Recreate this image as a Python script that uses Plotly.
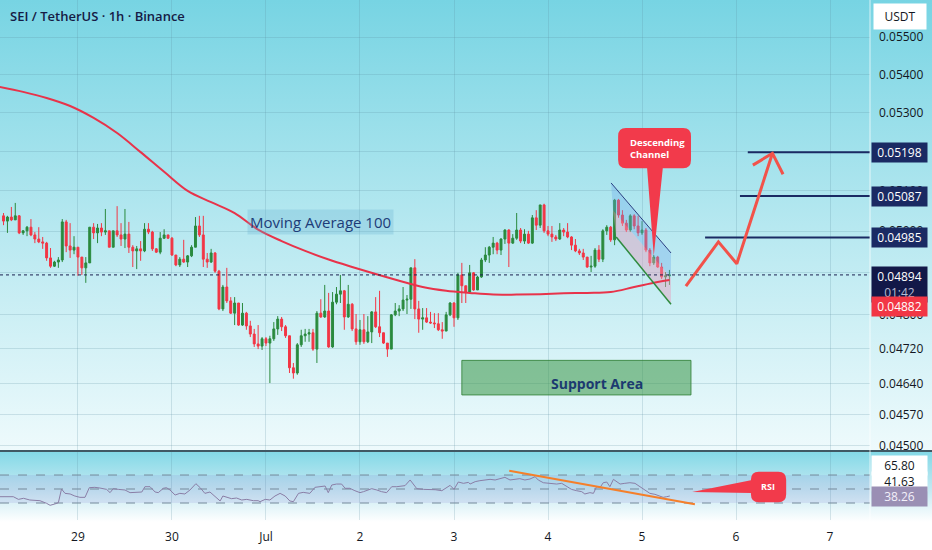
import math
import plotly.graph_objects as go

TITLE = "SEI / TetherUS · 1h · Binance"

# hourly candles, hour 0 = 29 Jun 00:00, prices in units of 0.00001 USDT
candle_start_hour = -19
first_open = 5038
closes = [
    5025, 5035, 5028, 5038, 4996, 5001, 5010, 4991, 4981, 4974,
    4971, 4935, 4915, 4925, 4930, 5023, 4964, 4954, 4961, 4937,
    4911, 4923, 5010, 4996, 5008, 4998, 5001, 4961, 5001, 4991,
    4981, 4993, 4961, 4952, 4957, 4952, 5005, 4998, 4957, 4949,
    4983, 4991, 4983, 4942, 4918, 4932, 4925, 4940, 4961, 5013,
    4991, 4932, 4925, 4947, 4903, 4813, 4865, 4832, 4803, 4827,
    4775, 4803, 4773, 4754, 4731, 4726, 4743, 4733, 4743, 4766,
    4789, 4771, 4750, 4676, 4664, 4729, 4750, 4754, 4757, 4719,
    4803, 4794, 4808, 4724, 4829, 4848, 4856, 4794, 4824, 4766,
    4736, 4764, 4736, 4759, 4806, 4771, 4757, 4733, 4719, 4799,
    4808, 4813, 4834, 4836, 4911, 4813, 4789, 4792, 4782, 4780,
    4778, 4764, 4761, 4799, 4827, 4792, 4894, 4868, 4853, 4899,
    4858, 4889, 4930, 4942, 4961, 4971, 4954, 4981, 5003, 4971,
    4983, 5003, 4976, 4993, 4971, 5033, 5015, 5065, 5001, 4993,
    4986, 4981, 5003, 4998, 4986, 4966, 4952, 4947, 4937, 4913,
    4915, 4954, 4932, 5001, 5010, 4979, 5077, 5040, 5020, 5003,
    5038, 5013, 4996, 5003, 4954, 4923, 4937, 4913, 4889, 4892, 4894,
]
highs = [
    5045, 5038, 5060, 5070, 5040, 5003, 5013, 5030, 4998, 5010,
    4986, 4974, 4959, 4928, 4937, 5030, 5028, 5020, 4988, 4961,
    4937, 4937, 5010, 5020, 5018, 5020, 5055, 5001, 5001, 5062,
    5020, 5055, 5023, 4966, 4964, 4976, 5020, 5020, 5001, 4959,
    4998, 5005, 4991, 4986, 4942, 4937, 4979, 4942, 4966, 5035,
    5038, 5038, 4947, 4957, 4949, 4906, 4870, 4911, 4841, 4841,
    4827, 4827, 4806, 4785, 4766, 4775, 4747, 4747, 4750, 4782,
    4796, 4794, 4775, 4750, 4687, 4733, 4764, 4766, 4766, 4766,
    4808, 4836, 4870, 4851, 4853, 4865, 4894, 4858, 4870, 4827,
    4801, 4787, 4801, 4796, 4808, 4841, 4856, 4757, 4733, 4801,
    4827, 4822, 4865, 4846, 4911, 4932, 4832, 4815, 4815, 4806,
    4803, 4803, 4782, 4806, 4829, 4829, 4899, 4923, 4868, 4918,
    4901, 4892, 4935, 4961, 4964, 4986, 4974, 4983, 5005, 5005,
    4993, 5045, 5008, 5005, 5001, 5040, 5052, 5065, 5068, 5013,
    5013, 4991, 5020, 5008, 5020, 4988, 4981, 4957, 4957, 4937,
    4940, 4959, 4966, 5005, 5015, 5013, 5080, 5080, 5052, 5028,
    5042, 5042, 5038, 5025, 5008, 4959, 4942, 4940, 4923, 4901, 4906,
]
lows = [
    5015, 4996, 5025, 5028, 4993, 4991, 4988, 4988, 4971, 4971,
    4957, 4928, 4911, 4913, 4911, 4925, 4949, 4935, 4944, 4892,
    4894, 4875, 4923, 4981, 4971, 4988, 4991, 4961, 4961, 4986,
    4964, 4959, 4947, 4913, 4908, 4928, 4949, 4993, 4952, 4947,
    4944, 4981, 4981, 4940, 4915, 4913, 4923, 4913, 4937, 4961,
    4986, 4913, 4911, 4923, 4899, 4810, 4808, 4827, 4801, 4775,
    4773, 4773, 4764, 4747, 4724, 4719, 4717, 4726, 4641, 4738,
    4752, 4761, 4745, 4664, 4651, 4660, 4724, 4736, 4736, 4715,
    4687, 4792, 4792, 4722, 4722, 4824, 4827, 4764, 4792, 4761,
    4729, 4729, 4731, 4733, 4733, 4768, 4747, 4731, 4701, 4719,
    4796, 4796, 4808, 4801, 4813, 4789, 4757, 4764, 4780, 4778,
    4768, 4761, 4743, 4761, 4796, 4771, 4787, 4827, 4827, 4851,
    4856, 4863, 4887, 4925, 4923, 4944, 4944, 4942, 4969, 4913,
    4969, 4979, 4971, 4969, 4969, 4969, 5003, 5008, 4996, 4988,
    4974, 4976, 4979, 4988, 4983, 4954, 4949, 4942, 4930, 4911,
    4901, 4911, 4925, 4925, 4991, 4974, 4966, 5033, 5013, 4998,
    4998, 5005, 4988, 4991, 4949, 4915, 4918, 4911, 4884, 4865, 4870,
]

# moving average 100, read at a few hours
ma_hours = [-20, -14, -8, -2, 4, 10, 16, 22, 28, 34, 40, 46, 52, 58, 64,
            70, 76, 82, 88, 94, 100, 106, 112, 118, 124, 130, 136, 142, 148, 151]
ma_values = [5367, 5354, 5338, 5317, 5286, 5247, 5198, 5148, 5100, 5072, 5045,
             5004, 4976, 4952, 4931, 4913, 4896, 4880, 4865, 4856, 4851, 4847,
             4847, 4848, 4850, 4851, 4853, 4865, 4877, 4882]

# RSI line
rsi_hours = [
    -19.9, -16.5, -15.2, -13.9, -12.3, -9.7, -8.0, -7.1, -5.9, -5.0, -4.2, -3.3,
    -2.0, -0.8, 0.5, 1.8, 2.9, 4.3, 5.6, 7.3, 8.2, 9.0, 10.3, 12.0, 13.3, 15.0,
    16.3, 17.1, 18.4, 19.7, 20.5, 21.8, 22.6, 23.5, 24.8, 26.0, 27.3, 28.6, 30.1,
    31.2, 32.4, 33.7, 35.0, 36.3, 37.0, 38.0, 39.2, 40.5, 41.8, 43.1, 44.8, 46.0,
    46.5, 47.8, 49.0, 50.3, 51.6, 52.9, 54.1, 55.0, 56.3, 57.5, 59.2, 60.5, 61.8,
    63.1, 63.9, 64.8, 66.0, 67.3, 68.2, 69.4, 70.7, 72.0, 72.9, 73.7, 75.0, 76.3,
    77.5, 78.8, 80.1, 81.4, 83.5, 84.8, 85.4, 86.5, 88.2, 89.9, 91.2, 92.9, 94.1,
    95.0, 96.0, 97.1, 98.4, 99.7, 100.1, 101.4, 102.6, 103.9, 105.2, 106.5,
    107.7, 109.0, 110.3, 111.6, 112.8, 114.1, 115.4, 116.7, 117.5, 118.8, 120.5,
    122.2, 123.5, 124.8, 126.0, 127.3, 128.6, 129.4, 130.7, 131.6, 132.4, 133.3,
    134.1, 135.0, 135.8, 136.7, 137.5, 138.4, 139.6, 140.9, 142.2, 143.5, 144.8,
    146.0, 147.3, 148.6, 149.4, 150.3, 151.1,
]
rsi_values = [
    39.0, 39.0, 35.2, 36.7, 34.3, 33.3, 29.5, 26.7, 28.6, 30.5, 50.0, 43.8,
    42.9, 40.0, 38.1, 38.1, 51.9, 52.4, 51.4, 49.5, 44.8, 50.5, 49.5, 48.6, 44.8,
    45.2, 45.7, 53.3, 53.3, 45.7, 44.8, 51.0, 51.9, 48.6, 41.4, 43.8, 42.9, 48.6,
    57.6, 51.9, 43.8, 45.7, 39.0, 32.9, 40.0, 38.1, 36.2, 37.1, 34.3, 35.2, 33.3,
    33.3, 31.9, 35.2, 34.3, 40.0, 43.8, 40.0, 32.9, 31.9, 43.8, 45.2, 43.8, 52.4,
    53.3, 54.3, 44.8, 55.7, 57.1, 57.1, 51.0, 51.0, 47.6, 44.8, 46.2, 47.6, 50.5,
    48.6, 46.2, 44.8, 53.3, 53.3, 54.8, 62.9, 58.1, 50.5, 49.5, 49.5, 49.0, 47.6,
    51.9, 55.2, 49.5, 60.0, 58.1, 59.5, 57.1, 60.5, 61.9, 62.9, 63.8, 62.9, 65.2,
    66.7, 62.9, 63.8, 64.8, 62.9, 64.3, 67.6, 62.9, 59.0, 58.1, 57.1, 58.1, 53.3,
    49.5, 47.6, 46.2, 42.9, 44.8, 43.8, 53.3, 52.4, 59.0, 60.0, 53.3, 63.8, 60.5,
    57.1, 58.1, 59.0, 58.1, 53.3, 47.6, 43.8, 42.4, 40.0, 38.1, 39.0, 40.0,
]
rsi_levels = [70, 50, 30]

day_hours = [0, 24, 48, 72, 96, 120, 144, 168, 192]
day_labels = ["29", "30", "Jul", "2", "3", "4", "5", "6", "7"]
price_ticks = [0.045, 0.0457, 0.0464, 0.0472, 0.048, 0.049, 0.050,
               0.051, 0.052, 0.053, 0.054, 0.055]

targets = [0.05198, 0.05087, 0.04985]
target_from = [171.0, 169.0, 160.1]
last_price = 0.04894
ma_last = "0.04882"
countdown = "01:42"
rsi_labels = ["65.80", "41.63", "38.26"]

# ---- page geometry (pixels of the 932x550 view)
W, H = 932, 550
PANE_R = 870
MAIN_B = 450
RSI_T, RSI_B = 452, 520
X_RANGE = [-19.9, 202.2]
P_TOP, P_BOT = 0.05601, 0.04491

NAVY = "#1a2a63"
RED = "#f23645"
GREEN = "#2a8a3e"
GRID = "rgba(90,140,160,0.22)"
FONT = "Open Sans"

TICK = 1e-5
hours = list(range(candle_start_hour, candle_start_hour + len(closes)))
c = [v * TICK for v in closes]
o = [first_open * TICK] + c[:-1]
hi = [v * TICK for v in highs]
lo = [v * TICK for v in lows]
ma = [v * TICK for v in ma_values]


def lg(p):
    return math.log10(p)


def line_trace(x, y, color, width, ax="2", dash="solid", shape="linear"):
    return go.Scatter(x=x, y=y, mode="lines",
                      line=dict(color=color, width=width, dash=dash, shape=shape),
                      xaxis="x" + ax, yaxis="y" + ax, hoverinfo="skip", showlegend=False)


def fill_trace(x, y, color, ax="2"):
    return go.Scatter(x=x, y=y, fill="toself", fillcolor=color, mode="none",
                      xaxis="x" + ax, yaxis="y" + ax, hoverinfo="skip", showlegend=False)


fig = go.Figure()

# gradient backgrounds drawn in a pixel-space helper subplot
fig.add_trace(go.Scatter(
    x=[0, W, W, 0], y=[0, 0, MAIN_B, MAIN_B], fill="toself", mode="none",
    fillgradient=dict(type="vertical", start=0, stop=MAIN_B,
                      colorscale=[[0, "#77d4e3"], [0.5, "#b6e8f0"], [1, "#eefafc"]]),
    xaxis="x", yaxis="y", hoverinfo="skip", showlegend=False))
fig.add_trace(go.Scatter(
    x=[0, W, W, 0], y=[MAIN_B, MAIN_B, RSI_B + 2, RSI_B + 2], fill="toself", mode="none",
    fillgradient=dict(type="vertical", start=MAIN_B, stop=RSI_B + 2,
                      colorscale=[[0, "#80d8e6"], [0.55, "#c4e9f2"], [1, "#ffffff"]]),
    xaxis="x", yaxis="y", hoverinfo="skip", showlegend=False))

# descending channel (drawing)
ch_top = ([136.1, 151.4], [0.05120, 0.04947])
ch_mid = ([136.6, 151.4], [0.05052, 0.04887])
ch_bot = ([137.4, 151.4], [0.04986, 0.04824])
fig.add_trace(fill_trace(ch_top[0] + ch_mid[0][::-1], ch_top[1] + ch_mid[1][::-1],
                         "rgba(110,170,235,0.35)"))
fig.add_trace(fill_trace(ch_mid[0] + ch_bot[0][::-1], ch_mid[1] + ch_bot[1][::-1],
                         "rgba(230,160,190,0.45)"))

# support area
fig.add_trace(go.Scatter(
    x=[98.0, 156.5, 156.5, 98.0, 98.0], y=[0.04614, 0.04614, 0.04693, 0.04693, 0.04614],
    fill="toself", fillcolor="rgba(56,150,70,0.55)", mode="lines",
    line=dict(color="rgba(46,125,50,0.8)", width=1),
    xaxis="x2", yaxis="y2", hoverinfo="skip", showlegend=False))

fig.add_trace(go.Candlestick(
    x=hours, open=o, high=hi, low=lo, close=c,
    increasing=dict(line=dict(color=GREEN, width=1), fillcolor=GREEN),
    decreasing=dict(line=dict(color=RED, width=1), fillcolor=RED),
    whiskerwidth=0, xaxis="x2", yaxis="y2", showlegend=False))

fig.add_trace(line_trace(ma_hours, ma, "#e8334a", 2, shape="spline"))
fig.add_trace(line_trace(*ch_top, "#2b3f80", 1))
fig.add_trace(line_trace(*ch_bot, "#2e8b3e", 1.5))

# target levels
for p, h0 in zip(targets, target_from):
    fig.add_trace(line_trace([h0, X_RANGE[1]], [p, p], NAVY, 2))

# projected path with arrow head
fig.add_trace(line_trace([155.2, 163.5, 168.2, 177.3], [0.04867, 0.04974, 0.04921, 0.05195],
                         "#f2524a", 3))
fig.add_trace(line_trace([172.3, 177.3, 180.0], [0.05165, 0.05195, 0.05142], "#f2524a", 3))

# RSI pane: band, levels, line, trend line
fig.add_trace(fill_trace([X_RANGE[0], X_RANGE[1], X_RANGE[1], X_RANGE[0]],
                         [30, 30, 70, 70], "rgba(120,105,200,0.13)", ax="3"))
for lv in rsi_levels:
    fig.add_trace(line_trace(X_RANGE, [lv, lv], "#74899a", 1, ax="3", dash="dash"))
fig.add_trace(line_trace(rsi_hours, rsi_values, "#8a7ea6", 1, ax="3"))
fig.add_trace(line_trace([110.1, 157.5], [76.2, 28.1], "#f57f2a", 2, ax="3"))

shapes = []
# current price dotted line
shapes.append(dict(type="line", xref="x2 domain", yref="y2", x0=0, x1=1,
                   y0=last_price, y1=last_price,
                   line=dict(color="#1b2150", width=1, dash="dot")))
# callout "Descending Channel"
l, r, t, b = 137.9, 156.5, 0.05260, 0.05157
t_in, b_in, rx = 0.05239, 0.05178, 2.0
shapes.append(dict(
    type="path", xref="x2", yref="y2", fillcolor="#f23a4b", line=dict(width=0),
    path=(f"M{l + rx},{t} L{r - rx},{t} Q{r},{t} {r},{t_in} L{r},{b_in} "
          f"Q{r},{b} {r - rx},{b} L149.3,{b} L147.0,0.04940 L145.3,{b} "
          f"L{l + rx},{b} Q{l},{b} {l},{b_in} L{l},{t_in} Q{l},{t} {l + rx},{t} Z")))
# callout "RSI"
l, r, t, b = 171.8, 180.8, 74.7, 31.0
t_in, b_in = 63.3, 42.4
shapes.append(dict(
    type="path", xref="x3", yref="y3", fillcolor="#f23a4b", line=dict(width=0),
    path=(f"M{l + rx},{t} L{r - rx},{t} Q{r},{t} {r},{t_in} L{r},{b_in} "
          f"Q{r},{b} {r - rx},{b} L{l + rx},{b} Q{l},{b} {l},{b_in} "
          f"L{l},44.3 L156.8,45.7 L{l},62.5 L{l},{t_in} Q{l},{t} {l + rx},{t} Z")))
# pane separator and price-scale edge
shapes.append(dict(type="line", xref="paper", yref="paper", x0=0, x1=1,
                   y0=1 - 451 / H, y1=1 - 451 / H, line=dict(color="#2a2e39", width=1.5)))
shapes.append(dict(type="line", xref="paper", yref="paper", x0=PANE_R / W, x1=PANE_R / W,
                   y0=0, y1=1, line=dict(color="rgba(255,255,255,0.7)", width=1)))

ann = []
ann.append(dict(xref="paper", yref="paper", x=8 / W, y=1 - 16 / H, xanchor="left",
                yanchor="middle", showarrow=False, text=TITLE,
                font=dict(size=13, color="#161b45", family=FONT, weight=600)))
ann.append(dict(xref="x2", yref="y2", x=61.8, y=lg(0.05023), showarrow=False,
                text="Moving Average 100", bgcolor="rgba(100,175,210,0.28)", borderpad=2,
                font=dict(size=15, color="#1d3c78", family=FONT)))
ann.append(dict(xref="x2", yref="y2", x=132.5, y=lg(0.04641), showarrow=False,
                text="<b>Support Area</b>", font=dict(size=14, color="#1c3a70", family=FONT)))
ann.append(dict(xref="x2", yref="y2", x=140.4, y=lg(0.05208), xanchor="left", align="left",
                showarrow=False, text="<b>Descending<br>Channel</b>",
                font=dict(size=9.5, color="white", family=FONT)))
ann.append(dict(xref="x3", yref="y3", x=176.2, y=52.9, showarrow=False, text="<b>RSI</b>",
                font=dict(size=9, color="white", family=FONT)))
ann.append(dict(xref="paper", yref="paper", x=900 / W, y=1 - 17 / H, xanchor="center",
                yanchor="middle", showarrow=False, text="USDT", bgcolor="white",
                borderpad=4, width=44, font=dict(size=12, color="#131722", family=FONT)))

label_x = 871 / W
for p in targets:
    ann.append(dict(xref="paper", yref="y2", x=label_x, y=lg(p), xanchor="left",
                    yanchor="middle", showarrow=False, text=f"{p:.5f}", bgcolor=NAVY,
                    borderpad=1, width=53, font=dict(size=12, color="white", family=FONT)))
ann.append(dict(xref="paper", yref="y2", x=label_x, y=lg(last_price), xanchor="left",
                yanchor="top", yshift=9, showarrow=False, bgcolor="#121848", borderpad=1,
                width=53, text=f"{last_price:.5f}<br><span style='color:#b9bdd3'>{countdown}</span>",
                font=dict(size=12, color="white", family=FONT)))
ann.append(dict(xref="paper", yref="paper", x=label_x, y=1 - 306 / H, xanchor="left",
                yanchor="middle", showarrow=False, text=ma_last, bgcolor=RED, borderpad=1,
                width=53, font=dict(size=12, color="white", family=FONT)))
for txt, ypx, bg, fg in zip(rsi_labels, [465, 481, 496],
                            ["white", "white", "#9a8fb4"], ["#131722", "#131722", "#f3f0fa"]):
    ann.append(dict(xref="paper", yref="paper", x=label_x, y=1 - ypx / H, xanchor="left",
                    yanchor="middle", showarrow=False, text=txt, bgcolor=bg, borderpad=1,
                    width=53, font=dict(size=12, color=fg, family=FONT)))

fig.update_layout(
    width=W, height=H, margin=dict(l=0, r=0, t=0, b=0, autoexpand=False),
    paper_bgcolor="white", plot_bgcolor="rgba(0,0,0,0)",
    font=dict(family=FONT, color="#131722", size=12),
    showlegend=False, hovermode=False,
    xaxis=dict(domain=[0, 1], range=[0, W], visible=False, fixedrange=True, automargin=False),
    yaxis=dict(domain=[0, 1], range=[H, 0], visible=False, fixedrange=True, automargin=False),
    xaxis2=dict(domain=[0, PANE_R / W], range=X_RANGE, anchor="y2", tickvals=day_hours,
                showticklabels=False, showgrid=True, gridcolor=GRID, zeroline=False,
                rangeslider=dict(visible=False), showline=False, ticks="", automargin=False),
    yaxis2=dict(domain=[1 - MAIN_B / H, 1], type="log", range=[lg(P_BOT), lg(P_TOP)],
                anchor="x2", side="right", tickvals=price_ticks,
                ticktext=[f"{p:.5f}" for p in price_ticks], showgrid=True, gridcolor=GRID,
                zeroline=False, ticks="", ticklabelstandoff=8, automargin=False,
                tickfont=dict(size=12, color="#131722")),
    xaxis3=dict(domain=[0, PANE_R / W], range=X_RANGE, anchor="y3", tickvals=day_hours,
                ticktext=day_labels, showgrid=True, gridcolor=GRID, zeroline=False,
                ticks="", ticklabelstandoff=8, automargin=False,
                tickfont=dict(size=12, color="#131722")),
    yaxis3=dict(domain=[1 - RSI_B / H, 1 - RSI_T / H], range=[5.7, 102.9], anchor="x3",
                side="right", showticklabels=False, showgrid=False, zeroline=False,
                automargin=False),
    shapes=shapes, annotations=ann,
)

# the page body has a default 8px margin; drop it so the chart fills the window
fig.write_html("out.html", config={"displayModeBar": False},
               post_script="document.body.style.margin = '0';")
